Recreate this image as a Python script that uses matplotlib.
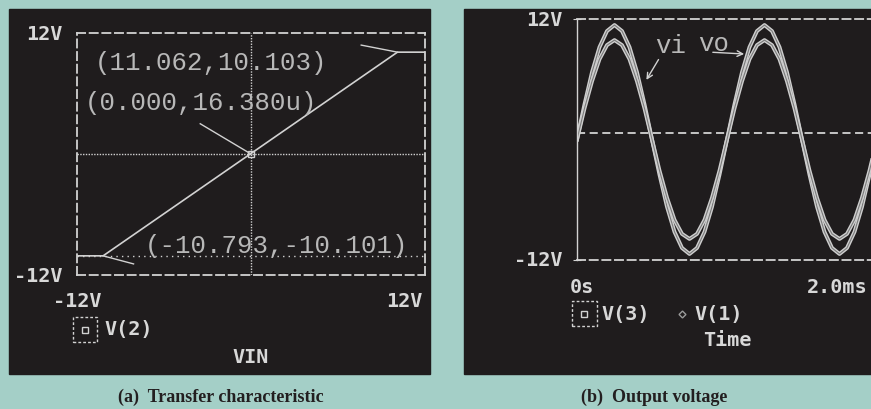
import numpy as np
import matplotlib.pyplot as plt
import matplotlib.patheffects as pe
from matplotlib.patches import Rectangle

BG = '#a4cfc7'
PANEL = '#1f1c1d'
FG = '#d2d2d2'
TXT = '#b8b8b8'

# (a) transfer characteristic, V(2) vs VIN
uin = [-12.0, -10.2, 10.1, 12.0]
v2 = [-10.1, -10.1, 10.1, 10.1]
cursor_labels = ['(11.062,10.103)', '(0.000,16.380u)', '(-10.793,-10.101)']
cursor_from = [(7.6, 10.8), (-3.5, 3.0), (-8.1, -10.9)]
cursor_to = [(10.1, 10.1), (0.0, 0.0), (-10.2, -10.1)]

# (b) output voltage vs time (ms), sampled every 0.05 ms
time_ms = np.linspace(0, 2, 41)
v3 = [0, 3.5, 6.7, 9.2, 10.8, 11.4, 10.8, 9.2, 6.7, 3.5,
      0, -3.5, -6.7, -9.2, -10.8, -11.4, -10.8, -9.2, -6.7, -3.5,
      0, 3.5, 6.7, 9.2, 10.8, 11.4, 10.8, 9.2, 6.7, 3.5,
      0, -3.5, -6.7, -9.2, -10.8, -11.4, -10.8, -9.2, -6.7, -3.5, 0]
v1 = [0, 3.1, 5.8, 8.0, 9.4, 9.9, 9.4, 8.0, 5.8, 3.1,
      0, -3.1, -5.8, -8.0, -9.4, -9.9, -9.4, -8.0, -5.8, -3.1,
      0, 3.1, 5.8, 8.0, 9.4, 9.9, 9.4, 8.0, 5.8, 3.1,
      0, -3.1, -5.8, -8.0, -9.4, -9.9, -9.4, -8.0, -5.8, -3.1, 0]

W, H = 871, 410
tick_font = dict(family='DejaVu Sans Mono', weight='bold', size=14.5, color='#d8d8d8')
cur_font = dict(family='Liberation Mono', size=18.5, color=TXT)
cap_font = dict(family='Liberation Serif', weight='bold', size=13, color='#231f20')
dash = (0, (4.5, 2.5))

fig = plt.figure(figsize=(W / 100, H / 100), dpi=100, facecolor=BG)

# black scope panels
fig.patches.append(Rectangle((9 / W, 1 - 375 / H), 421 / W, 365 / H,
                             transform=fig.transFigure, color=PANEL, zorder=-10))
fig.patches.append(Rectangle((464 / W, 1 - 375 / H), 420 / W, 365 / H,
                             transform=fig.transFigure, color=PANEL, zorder=-10))


def legend_box(ax, x, y, w, h):
    ax.add_patch(Rectangle((x, y), w, h, transform=ax.transAxes, fill=False,
                           ec=FG, lw=1, ls=(0, (2, 1.5)), clip_on=False))
    ax.plot([x + w / 2], [y + h / 2], marker='s', ms=5, mfc='none', mec=FG,
            mew=1, transform=ax.transAxes, clip_on=False)


# ---- (a) ----
ax = fig.add_axes([77 / W, 1 - 276 / H, 348 / W, 242 / H])
ax.set_facecolor('none')
ax.set_xlim(-12, 12)
ax.set_ylim(-12, 12)
ax.set_xticks([])
ax.set_yticks([])
for s in ax.spines.values():
    s.set_color(FG)
    s.set_linewidth(1.3)
    s.set_linestyle(dash)

ax.axvline(0, color=FG, lw=1, ls=(0, (1, 1)))
ax.axhline(0, color=FG, lw=1, ls=(0, (1, 1)))
ax.axhline(v2[0], color=FG, lw=1, ls=(0, (1, 3)))
ax.plot(uin, v2, color=FG, lw=1.2)
ax.plot([0], [0], marker='s', ms=5, mfc='none', mec=FG)
for a, b in zip(cursor_from, cursor_to):
    ax.plot([a[0], b[0]], [a[1], b[1]], color=FG, lw=1)

ax.text(0.052, 0.880, cursor_labels[0], transform=ax.transAxes, va='center', **cur_font)
ax.text(0.023, 0.715, cursor_labels[1], transform=ax.transAxes, va='center', **cur_font)
ax.text(0.195, 0.124, cursor_labels[2], transform=ax.transAxes, va='center', **cur_font)

ax.text(-0.043, 0.996, '12V', transform=ax.transAxes, ha='right', va='center', **tick_font)
ax.text(-0.043, 0.0, '-12V', transform=ax.transAxes, ha='right', va='center', **tick_font)
ax.text(0.0, -0.107, '-12V', transform=ax.transAxes, ha='center', va='center', **tick_font)
ax.text(0.994, -0.107, '12V', transform=ax.transAxes, ha='right', va='center', **tick_font)
legend_box(ax, -0.0115, -0.277, 0.069, 0.103)
ax.text(0.080, -0.223, 'V(2)', transform=ax.transAxes, va='center', **tick_font)
ax.text(0.5, -0.335, 'VIN', transform=ax.transAxes, ha='center', va='center', **tick_font)

# ---- (b) ----
bx = fig.add_axes([577 / W, 1 - 261 / H, 300 / W, 241 / H])
bx.set_facecolor('none')
bx.set_xlim(0, 2)
bx.set_ylim(-12, 12)
bx.set_xticks([])
bx.set_yticks([-12, 12])
bx.set_yticklabels([])
bx.tick_params(axis='y', direction='inout', length=6, color=FG)
for name, s in bx.spines.items():
    s.set_color(FG)
    s.set_linewidth(1.3)
    if name != 'left':
        s.set_linestyle(dash)
bx.spines['left'].set_linewidth(1)

bx.axhline(0.65, color=FG, lw=1.3, ls=dash)
glow = [pe.Stroke(linewidth=2.8, foreground='#cfcfcf'), pe.Normal()]
bx.plot(time_ms, v3, color='#7a7a7a', lw=0.8, path_effects=glow)
bx.plot(time_ms, v1, color='#7a7a7a', lw=0.8, path_effects=glow)

bx.text(0.52, 9.4, 'vi', va='center', **cur_font)
bx.text(0.807, 9.6, 'vo', va='center', **cur_font)
bx.annotate('', xy=(0.453, 5.7), xytext=(0.553, 8.2),
            arrowprops=dict(arrowstyle='->', color=FG, lw=1))
bx.annotate('', xy=(1.133, 8.5), xytext=(0.887, 8.7),
            arrowprops=dict(arrowstyle='->', color=FG, lw=1))

bx.text(-0.047, 0.996, '12V', transform=bx.transAxes, ha='right', va='center', **tick_font)
bx.text(-0.047, 0.0, '-12V', transform=bx.transAxes, ha='right', va='center', **tick_font)
bx.text(-0.023, -0.112, '0s', transform=bx.transAxes, va='center', **tick_font)
bx.text(0.767, -0.112, '2.0ms', transform=bx.transAxes, va='center', **tick_font)
legend_box(bx, -0.017, -0.274, 0.083, 0.104)
bx.text(0.083, -0.222, 'V(3)', transform=bx.transAxes, va='center', **tick_font)
bx.plot([0.35], [-0.222], marker='D', ms=3.5, mfc='none', mec='#9a9a9a',
        transform=bx.transAxes, clip_on=False)
bx.text(0.393, -0.222, 'V(1)', transform=bx.transAxes, va='center', **tick_font)
bx.text(0.5, -0.328, 'Time', transform=bx.transAxes, ha='center', va='center', **tick_font)

# captions
fig.text(221 / W, 1 - 397 / H, '(a)  Transfer characteristic', ha='center', va='center', **cap_font)
fig.text(654 / W, 1 - 397 / H, '(b)  Output voltage', ha='center', va='center', **cap_font)

fig.savefig('out.png', dpi=100, facecolor=BG)
